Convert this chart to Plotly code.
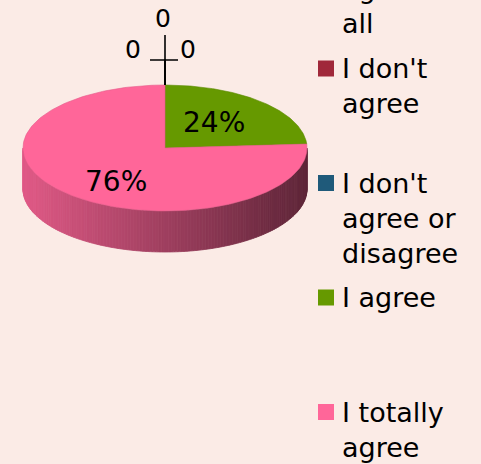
import textwrap
import numpy as np
import plotly.graph_objects as go

# ---------------- data ----------------
categories = ["I don't agree at all", "I don't agree", "I don't agree or disagree",
              "I agree", "I totally agree"]
values = [0, 0, 0, 24, 76]
colors = ["#6E5A9A", "#A0283A", "#1F5A7A", "#669900", "#FF6699"]

# ---------------- geometry / style ----------------
W, H = 481, 464
BG = "#FBEBE6"
cx, cy, rx, ry, depth = 165, 148, 142, 63, 41
t_start = -np.pi / 2            # 12 o'clock, clockwise (y axis points down)
FONT = "DejaVu Sans"

total = float(sum(values))
bounds = []
acc = 0.0
for v in values:
    a0 = t_start + 2 * np.pi * acc / total
    acc += v
    a1 = t_start + 2 * np.pi * acc / total
    bounds.append((a0, a1))


def hex2rgb(h):
    h = h.lstrip("#")
    return tuple(int(h[i:i + 2], 16) for i in (0, 2, 4))


def shade(h, f):
    r, g, b = hex2rgb(h)
    return "rgb(%d,%d,%d)" % (min(255, r * f), min(255, g * f), min(255, b * f))


def pt(t):
    return cx + rx * np.cos(t), cy + ry * np.sin(t)


fig = go.Figure()

# ---- side (front half of the cylinder), drawn as shaded strips ----
N = 140
ts = np.linspace(0, np.pi, N + 1)
for k in range(N):
    ta, tb = ts[k], ts[k + 1]
    tm = 0.5 * (ta + tb)
    owner = None
    for i, (a0, a1) in enumerate(bounds):
        if values[i] == 0:
            continue
        for off in (0, 2 * np.pi, -2 * np.pi):
            if a0 <= tm + off < a1:
                owner = i
    if owner is None:
        continue
    xa, ya = pt(ta)
    xb, yb = pt(tb)
    xm = 0.5 * (xa + xb)
    frac = (xm - (cx - rx)) / (2 * rx)       # 0 at left, 1 at right
    f = 0.88 - 0.51 * frac
    col = shade(colors[owner], f)
    fig.add_trace(go.Scatter(
        x=[xa, xb, xb, xa, xa], y=[ya, yb, yb + depth, ya + depth, ya],
        mode="lines", fill="toself", fillcolor=col,
        line=dict(color=col, width=0.8), hoverinfo="skip", showlegend=False))

# ---- top face slices ----
for i, (a0, a1) in enumerate(bounds):
    if values[i] == 0:
        continue
    tt = np.linspace(a0, a1, 200)
    xs = [cx] + [cx + rx * np.cos(t) for t in tt] + [cx]
    ys = [cy] + [cy + ry * np.sin(t) for t in tt] + [cy]
    fig.add_trace(go.Scatter(
        x=xs, y=ys, mode="lines", fill="toself", fillcolor=colors[i],
        line=dict(color=shade(colors[i], 0.9), width=0.6),
        hoverinfo="skip", showlegend=False))

annotations = []
shapes = []

# ---- data labels ----
zero_offsets = [(-32, -36), (23, -36), (-2, -67)]     # label offsets of zero slices
zero_paths = [[(0, -25), (-15, -25)], [(0, -25), (13, -25)], [(0, -50)]]
zi = 0
for i, (a0, a1) in enumerate(bounds):
    v = values[i]
    if v == 0:
        ax0, ay0 = pt(a0)
        ox, oy = zero_offsets[zi]
        path = zero_paths[zi]
        xs = [ax0] + [ax0 + p[0] for p in path]
        ys = [ay0] + [ay0 + p[1] for p in path]
        fig.add_trace(go.Scatter(x=xs, y=ys, mode="lines",
                                 line=dict(color="black", width=1.6),
                                 hoverinfo="skip", showlegend=False))
        annotations.append(dict(x=ax0 + ox, y=ay0 + oy, xref="x", yref="y",
                                text=str(v), showarrow=False,
                                font=dict(family=FONT, size=25, color="black"),
                                xanchor="center", yanchor="middle"))
        zi += 1
    else:
        tm = 0.5 * (a0 + a1)
        lx = cx + rx * np.cos(tm) * 0.5
        ly = cy + ry * np.sin(tm) * 0.65 + 4
        annotations.append(dict(x=lx, y=ly, xref="x", yref="y",
                                text="%d%%" % v, showarrow=False,
                                font=dict(family=FONT, size=28, color="black"),
                                xanchor="center", yanchor="middle"))

# ---- legend (manual, Excel-like spacing) ----
leg_x_box, leg_box, leg_x_text = 318, 16, 340
leg_first, leg_step = -46, 114.5
for i, cat in enumerate(categories):
    yc = leg_first + leg_step * i
    shapes.append(dict(type="rect", xref="x", yref="y",
                       x0=leg_x_box, x1=leg_x_box + leg_box,
                       y0=yc - leg_box / 2, y1=yc + leg_box / 2,
                       fillcolor=colors[i], line=dict(width=0)))
    lines = textwrap.wrap(cat, 9)
    annotations.append(dict(x=leg_x_text / W, y=1 - (yc - 17.5) / H,
                            xref="paper", yref="paper",
                            text="<br>".join(lines), showarrow=False, align="left",
                            font=dict(family=FONT, size=27, color="black"),
                            xanchor="left", yanchor="top"))

fig.update_layout(
    width=W, height=H,
    margin=dict(l=0, r=0, t=0, b=0),
    paper_bgcolor=BG, plot_bgcolor=BG,
    xaxis=dict(range=[0, W], visible=False, fixedrange=True),
    yaxis=dict(range=[H, 0], visible=False, fixedrange=True),
    annotations=annotations, shapes=shapes, showlegend=False,
)

fig.write_html("out.html",
               config={"displayModeBar": False, "staticPlot": True},
               post_script="document.body.style.margin='0';"
                           "document.body.style.overflow='hidden';")
